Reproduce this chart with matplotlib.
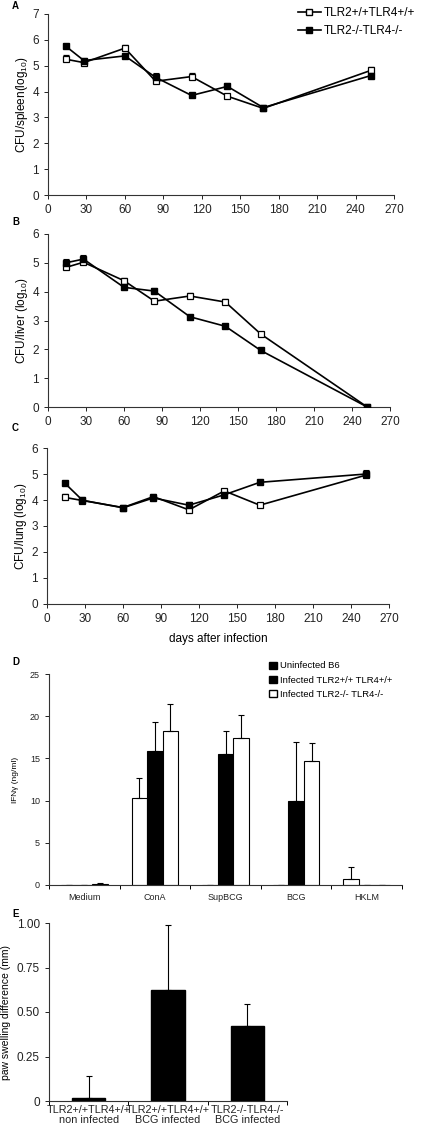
import matplotlib
matplotlib.use("Agg")
import matplotlib.pyplot as plt
import numpy as np
from matplotlib.lines import Line2D
from matplotlib.patches import Patch

plt.rcParams['font.family'] = ['Liberation Sans', 'DejaVu Sans']
plt.rcParams['mathtext.default'] = 'regular'

days = [14, 28, 60, 84, 112, 140, 168, 252]

# panel A - spleen
spleen_wt = [5.25, 5.12, 5.68, 4.40, 4.58, 3.82, 3.35, 4.82]
spleen_wt_err = [0.15, 0.08, 0.12, 0.10, 0.12, 0.08, 0.06, 0.12]
spleen_ko = [5.75, 5.20, 5.38, 4.55, 3.85, 4.20, 3.38, 4.62]
spleen_ko_err = [0.10, 0.10, 0.06, 0.15, 0.05, 0.15, 0.08, 0.05]

# panel B - liver
liver_wt = [4.84, 5.02, 4.38, 3.67, 3.85, 3.64, 2.53, 0.0]
liver_wt_err = [0.10, 0.08, 0.10, 0.06, 0.12, 0.12, 0.06, 0.0]
liver_ko = [5.00, 5.13, 4.15, 4.02, 3.13, 2.80, 1.96, 0.0]
liver_ko_err = [0.15, 0.15, 0.05, 0.10, 0.04, 0.05, 0.04, 0.0]

# panel C - lung
lung_wt = [4.10, 3.98, 3.71, 4.13, 3.62, 4.35, 3.80, 4.96]
lung_wt_err = [0.12, 0.10, 0.04, 0.10, 0.06, 0.06, 0.05, 0.05]
lung_ko = [4.65, 3.99, 3.70, 4.08, 3.80, 4.20, 4.68, 5.00]
lung_ko_err = [0.10, 0.12, 0.05, 0.08, 0.12, 0.05, 0.05, 0.15]

series_labels = ['TLR2+/+TLR4+/+', 'TLR2-/-TLR4-/-']

# panel D - IFNg
stimuli = ['Medium', 'ConA', 'SupBCG', 'BCG', 'HKLM']
ifn_uninf = [0.0, 10.3, 0.0, 0.0, 0.75]
ifn_uninf_err = [0.0, 2.35, 0.0, 0.0, 1.35]
ifn_wt = [0.0, 15.9, 15.55, 10.0, 0.0]
ifn_wt_err = [0.0, 3.4, 2.7, 7.0, 0.0]
ifn_ko = [0.15, 18.25, 17.45, 14.7, 0.0]
ifn_ko_err = [0.05, 3.2, 2.75, 2.1, 0.0]
d_labels = ['Uninfected B6', 'Infected TLR2+/+ TLR4+/+', 'Infected TLR2-/- TLR4-/-']

# panel E - paw swelling
e_groups = ['TLR2+/+TLR4+/+\nnon infected', 'TLR2+/+TLR4+/+\nBCG infected', 'TLR2-/-TLR4-/-\nBCG infected']
swelling = [0.017, 0.625, 0.423]
swelling_err = [0.123, 0.365, 0.12]

W, H = 422, 1131
fig = plt.figure(figsize=(W / 100, H / 100), dpi=100)


def ax_at(left, right, top, bottom):
    return fig.add_axes([left / W, 1 - bottom / H, (right - left) / W, (bottom - top) / H])


def style(ax, fs=7.5):
    for s in ['top', 'right']:
        ax.spines[s].set_visible(False)
    for s in ['left', 'bottom']:
        ax.spines[s].set_linewidth(0.8)
        ax.spines[s].set_color('#333333')
    ax.tick_params(direction='out', length=3, width=0.7, labelsize=fs, colors='#222222')


def line_panel(ax, wt, wt_err, ko, ko_err, ymax, ylabel):
    ax.errorbar(days, wt, yerr=[np.zeros(len(wt)), wt_err], color='black', lw=1.2,
                marker='s', ms=4.5, mfc='white', mec='black', mew=0.9,
                ecolor='black', elinewidth=0.8, capsize=2.5, capthick=0.8, zorder=3)
    ax.errorbar(days, ko, yerr=[np.zeros(len(ko)), ko_err], color='black', lw=1.2,
                marker='s', ms=4.5, mfc='black', mec='black',
                ecolor='black', elinewidth=0.8, capsize=2.5, capthick=0.8, zorder=3)
    ax.set_xlim(0, 270)
    ax.set_ylim(0, ymax)
    ax.set_xticks(range(0, 271, 30))
    ax.set_yticks(range(0, ymax + 1))
    ax.set_ylabel(ylabel, fontsize=8.5, labelpad=2)
    style(ax, 8.5)


axA = ax_at(48, 394, 14, 195)
line_panel(axA, spleen_wt, spleen_wt_err, spleen_ko, spleen_ko_err, 7, 'CFU/spleen(log$_{10}$)')
handles = [Line2D([], [], color='black', lw=1.2, marker='s', ms=4, mfc='white', mec='black'),
           Line2D([], [], color='black', lw=1.2, marker='s', ms=4, mfc='black', mec='black')]
fig.legend(handles, series_labels, loc='upper right', bbox_to_anchor=(1.0, 1.0), frameon=False,
           fontsize=8.5, handlelength=2.0, handletextpad=0.2, labelspacing=0.5, borderaxespad=0.2)

axB = ax_at(48, 390, 234, 407)
line_panel(axB, liver_wt, liver_wt_err, liver_ko, liver_ko_err, 6, 'CFU/liver (log$_{10}$)')

axC = ax_at(47, 389, 448, 604)
line_panel(axC, lung_wt, lung_wt_err, lung_ko, lung_ko_err, 6, 'CFU/lung (log$_{10}$)')
axC.set_xlabel('days after infection', fontsize=8.5, labelpad=6)

# panel D
axD = ax_at(49, 402, 674, 885)
x = np.arange(len(stimuli))
bw = 0.22
kw = dict(width=bw, edgecolor='black', linewidth=0.8,
          error_kw=dict(elinewidth=0.8, capsize=2.5, capthick=0.8, ecolor='black'))
axD.bar(x - bw, ifn_uninf, yerr=[np.zeros(5), ifn_uninf_err], color='white', **kw)
axD.bar(x, ifn_wt, yerr=[np.zeros(5), ifn_wt_err], color='black', **kw)
axD.bar(x + bw, ifn_ko, yerr=[np.zeros(5), ifn_ko_err], color='white', **kw)
axD.set_xlim(-0.5, len(stimuli) - 0.5)
axD.set_ylim(0, 25)
axD.set_yticks(range(0, 26, 5))
axD.set_xticks(x)
axD.set_xticklabels(stimuli)
axD.set_xticks(np.arange(-0.5, len(stimuli), 1), minor=True)
axD.set_ylabel('IFN\u03b3 (ng/ml)', fontsize=6, labelpad=8)
style(axD, 6.5)
axD.tick_params(axis='x', which='major', length=0, pad=6)
axD.tick_params(axis='x', which='minor', length=3, direction='out', width=0.7)
d_handles = [Patch(facecolor='black', edgecolor='black'),
             Patch(facecolor='black', edgecolor='black'),
             Patch(facecolor='white', edgecolor='black')]
axD.legend(d_handles, d_labels, loc='upper left', bbox_to_anchor=(0.60, 1.1),
           frameon=False, fontsize=6.8, handlelength=0.8, handleheight=0.8,
           handletextpad=0.3, labelspacing=0.55)

# panel E
axE = ax_at(49, 287, 923, 1101)
xe = np.arange(len(e_groups))
axE.bar(xe, swelling, width=0.42, color='black', edgecolor='black',
        yerr=[np.zeros(3), swelling_err],
        error_kw=dict(elinewidth=0.8, capsize=2.5, capthick=0.8, ecolor='black'))
axE.set_xlim(-0.5, len(e_groups) - 0.5)
axE.set_ylim(0, 1.0)
axE.set_yticks([0, 0.25, 0.5, 0.75, 1.0])
axE.set_yticklabels(['0', '0.25', '0.50', '0.75', '1.00'])
axE.set_xticks(xe)
axE.set_xticklabels(e_groups, linespacing=1.0)
axE.set_xticks(np.arange(-0.5, len(e_groups), 1), minor=True)
axE.set_ylabel('paw swelling difference (mm)', fontsize=7.5, labelpad=4)
style(axE, 8.5)
axE.tick_params(axis='x', which='major', length=0, pad=3, labelsize=7.8)
axE.tick_params(axis='x', which='minor', length=3, direction='out', width=0.7)

for lab, ypix in [('A', 6), ('B', 222), ('C', 428), ('D', 662), ('E', 914)]:
    fig.text(12 / W, 1 - ypix / H, lab, fontsize=7, fontweight='bold', ha='left', va='center')

fig.savefig('out.png', dpi=100)
